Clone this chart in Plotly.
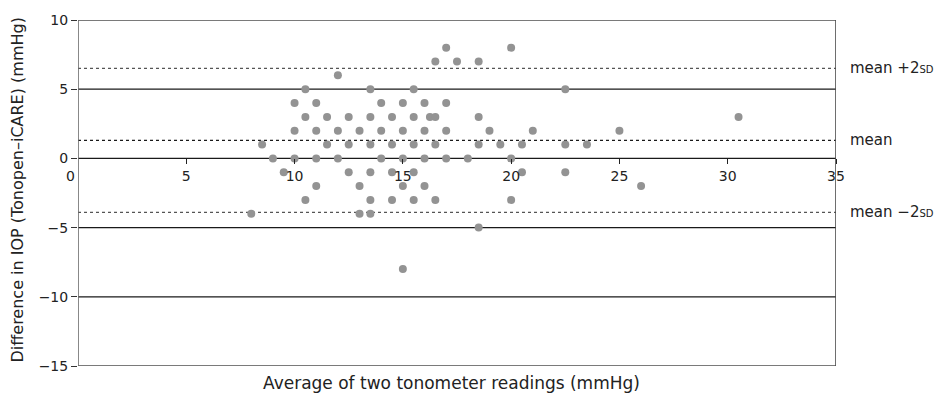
import plotly.graph_objects as go

# Data: (average, difference) pairs grouped by difference value
diff_values = [8, 7, 6, 5, 4, 3, 2, 1, 0, -1, -2, -3, -4, -5, -8]
averages_by_diff = [
    [17, 20],
    [16.5, 17.5, 18.5],
    [12],
    [10.5, 13.5, 15.5, 22.5],
    [10, 11, 14, 15, 16, 17],
    [10.5, 11.5, 12.5, 13.5, 14.5, 15.5, 16.25, 16.5, 18.5, 30.5],
    [10, 11, 12, 13, 14, 15, 16, 17, 19, 21, 25],
    [8.5, 11.5, 12.5, 13.5, 14.5, 15.5, 16.5, 18.5, 19.5, 20.5, 22.5, 23.5],
    [9, 10, 11, 12, 14, 15, 16, 17, 18, 20],
    [9.5, 12.5, 13.5, 14.5, 15.5, 20.5, 22.5],
    [11, 13, 15, 16, 26],
    [10.5, 13.5, 14.5, 15.5, 16.5, 20],
    [8, 13, 13.5],
    [18.5],
    [15],
]
mean_diff = 1.3
upper_loa = 6.5
lower_loa = -3.9
x_ticks = [5, 10, 15, 20, 25, 30, 35]
y_ticks = [-15, -10, -5, 0, 5, 10]
solid_lines = [-10, -5, 0, 5]

xs, ys = [], []
for d, avgs in zip(diff_values, averages_by_diff):
    for a in avgs:
        xs.append(a)
        ys.append(d)

FONT = "DejaVu Sans"
fig = go.Figure()
fig.add_trace(go.Scatter(x=xs, y=ys, mode="markers",
                         marker=dict(color="#939393", size=8, line=dict(width=0)),
                         showlegend=False, cliponaxis=False))

shapes = []
for yv in solid_lines:
    shapes.append(dict(type="line", xref="x", yref="y", x0=0, x1=35, y0=yv, y1=yv,
                       line=dict(color="#1a1a1a", width=1.3), layer="below"))
for yv in [10, -15]:
    shapes.append(dict(type="line", xref="x", yref="y", x0=0, x1=35, y0=yv, y1=yv,
                       line=dict(color="#7a7a7a", width=2), layer="below"))
for yv, col in [(upper_loa, "#555555"), (mean_diff, "#1a1a1a"), (lower_loa, "#555555")]:
    shapes.append(dict(type="line", xref="x", yref="y", x0=0, x1=35, y0=yv, y1=yv,
                       line=dict(color=col, width=1.3, dash="3px,3px"), layer="below"))
for xv, col in [(0, "#6a6a6a"), (35, "#4a4a4a")]:
    shapes.append(dict(type="line", xref="x", yref="y", x0=xv, x1=xv, y0=-15, y1=10,
                       line=dict(color=col, width=1.6), layer="below"))

annotations = [
    dict(text="Average of two tonometer readings (mmHg)", xref="paper", yref="paper",
         x=0.493, y=-0.049, showarrow=False, xanchor="center", yanchor="middle",
         font=dict(family=FONT, size=17, color="#222")),
    dict(text="Difference in IOP (Tonopen–iCARE) (mmHg)", xref="paper", yref="paper",
         x=-0.0792, y=0.51, showarrow=False, textangle=-90, xanchor="center", yanchor="middle",
         font=dict(family=FONT, size=16, color="#222")),
    dict(text="0", xref="x", yref="y", x=0, y=0, xshift=-8, yshift=-18, showarrow=False,
         xanchor="center", yanchor="middle", font=dict(family=FONT, size=14, color="#222")),
]
for yv, label in [(upper_loa, "mean +2<span style='font-size:10px'>SD</span>"),
                  (mean_diff, "mean"),
                  (lower_loa, "mean −2<span style='font-size:10px'>SD</span>")]:
    annotations.append(dict(text=label, xref="paper", yref="y", x=1.016, y=yv,
                            showarrow=False, xanchor="left", yanchor="middle",
                            font=dict(family=FONT, size=15, color="#222")))

fig.update_layout(
    width=938, height=388,
    margin=dict(l=70, r=110, t=12, b=30),
    paper_bgcolor="white", plot_bgcolor="white",
    shapes=shapes, annotations=annotations,
    font=dict(family=FONT, size=14, color="#222"),
    xaxis=dict(range=[0, 35], tickvals=x_ticks, ticktext=[str(v) for v in x_ticks],
               showgrid=False, zeroline=False, showline=False, automargin=False,
               anchor="free", position=0.6, ticks="outside", ticklen=5,
               tickcolor="#222", tickwidth=1.2, tickfont=dict(family=FONT, size=14, color="#222")),
    yaxis=dict(range=[-15, 10], tickvals=y_ticks,
               ticktext=[str(v).replace("-", "−") for v in y_ticks],
               showgrid=False, zeroline=False, showline=False, automargin=False,
               ticks="outside", ticklen=6, tickcolor="#333", tickwidth=1.2,
               tickfont=dict(family=FONT, size=14, color="#222")),
)

fig.write_html("out.html")
